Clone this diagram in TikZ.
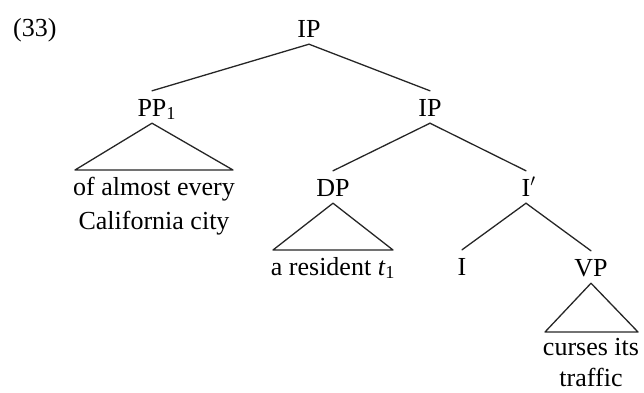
\documentclass[tikz,border=0pt]{standalone}
\usepackage{fontspec}
\setmainfont{Liberation Serif}
\begin{document}
\begin{tikzpicture}[
  x=1pt, y=-1pt,
  treefont/.style={font=\fontsize{26}{34}\selectfont},
  cat/.style={treefont, anchor=base, text height=18pt, text depth=0pt,
              inner xsep=1pt, inner ysep=7pt},
  leaf/.style={treefont, anchor=north, align=center, inner sep=0pt},
  branch/.style={line width=1.3pt, line cap=round, draw=black!85},
  roof/.style={branch, line join=round}
]
\useasboundingbox (0,0) rectangle (644,392);

% example number
\node[treefont, anchor=base west, inner sep=0pt] (num) at (13,36) {(33)};

% category labels
\node[cat] (ip)  at (309,37)  {IP};
\node[cat] (pp)  at (152,116) {PP\rlap{\textsubscript{1}}};
\node[cat] (ip2) at (430,116) {IP};
\node[cat] (dp)  at (333,196) {DP};
\node[cat] (ib)  at (526,196) {I\rlap{$'$}};
\node[cat] (i)   at (462,275) {I};
\node[cat] (vp)  at (591,276) {VP};

% branches
\draw[branch] (ip.south)  -- (pp.north);
\draw[branch] (ip.south)  -- (ip2.north);
\draw[branch] (ip2.south) -- (dp.north);
\draw[branch] (ip2.south) -- (ib.north);
\draw[branch] (ib.south)  -- (i.north);
\draw[branch] (ib.south)  -- (vp.north);

% roofs over unanalysed constituents
\coordinate (ppL) at (75,170);  \coordinate (ppR) at (233,170);
\coordinate (dpL) at (273,250); \coordinate (dpR) at (393,250);
\coordinate (vpL) at (545,332); \coordinate (vpR) at (638,332);
\draw[roof] (pp.south) -- (ppL) -- (ppR) -- cycle;
\draw[roof] (dp.south) -- (dpL) -- (dpR) -- cycle;
\draw[roof] (vp.south) -- (vpL) -- (vpR) -- cycle;

% terminal strings, hung just below each roof
\node[leaf] (ppw) at (154,177) {of almost every\\California city};
\node[leaf] (dpw) at (333,257) {a resident \textit{t}\textsubscript{1}};
\node[leaf, font=\fontsize{26}{31}\selectfont] (vpw) at (591,338) {curses its\\traffic};
\end{tikzpicture}
\end{document}
